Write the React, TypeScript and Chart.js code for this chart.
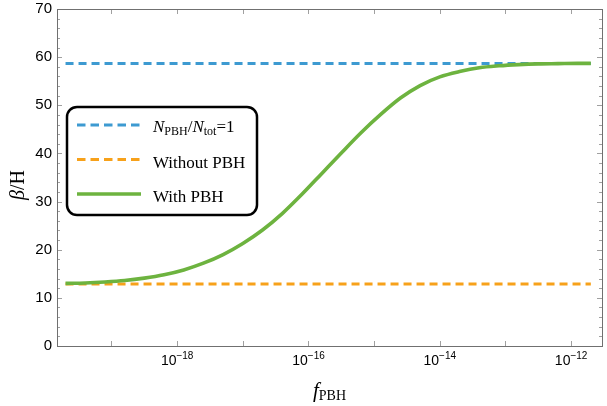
import React, { useEffect, useRef } from "react";
import { Chart, registerables } from "chart.js";

Chart.register(...registerables);

// ---- data ----
const logF: number[] = [
  -19.7, -19.4, -19.1, -18.8, -18.5, -18.2, -17.9, -17.6, -17.3, -17.0,
  -16.7, -16.4, -16.1, -15.8, -15.5, -15.2, -14.9, -14.6, -14.3, -14.0,
  -13.7, -13.4, -13.1, -12.8, -12.5, -12.2, -11.9, -11.7,
];
const betaWithPBH: number[] = [
  13.0, 13.1, 13.3, 13.6, 14.1, 14.8, 15.8, 17.2, 19.0, 21.3,
  24.1, 27.5, 31.5, 35.8, 40.1, 44.3, 48.1, 51.5, 54.1, 55.9,
  57.0, 57.8, 58.2, 58.45, 58.6, 58.65, 58.7, 58.7,
];
const fRangeExp: number[] = [-19.7, -11.7];
const betaNtotOne = 58.7;
const betaWithout = 12.9;

const legendLabels: string[] = ["N_PBH/N_tot=1", "Without PBH", "With PBH"];
const yTicks: number[] = [0, 10, 20, 30, 40, 50, 60, 70];
const xLabelExps: number[] = [-18, -16, -14, -12];
const xMinorExps: number[] = [-19, -17, -15, -13];

const BLUE = "#3D9AD1";
const ORANGE = "#F7A11A";
const GREEN = "#6DB33F";
const SANS = '"Liberation Sans", Arial, sans-serif';
const SERIF = '"Liberation Serif", "Times New Roman", serif';

function drawRich(
  ctx: CanvasRenderingContext2D,
  parts: { t: string; font: string; dy: number }[],
  x: number,
  y: number,
  align: "left" | "center"
) {
  let total = 0;
  for (const p of parts) {
    ctx.font = p.font;
    total += ctx.measureText(p.t).width;
  }
  let cx = align === "center" ? x - total / 2 : x;
  ctx.textAlign = "left";
  for (const p of parts) {
    ctx.font = p.font;
    ctx.fillText(p.t, cx, y + p.dy);
    cx += ctx.measureText(p.t).width;
  }
}

const framePlugin = {
  id: "framePlugin",
  afterDraw(chart: any) {
    const { ctx, chartArea: a, scales } = chart;
    const x = scales.x;
    const y = scales.y;
    ctx.save();
    // ticks
    ctx.strokeStyle = "#a0a0a0";
    ctx.lineWidth = 1;
    ctx.beginPath();
    for (let v = 0; v <= 70; v += 2) {
      const py = Math.round(y.getPixelForValue(v)) + 0.5;
      const len = v % 10 === 0 ? 5 : 3;
      ctx.moveTo(a.left, py);
      ctx.lineTo(a.left + len, py);
      ctx.moveTo(a.right, py);
      ctx.lineTo(a.right - len, py);
    }
    for (const e of [...xLabelExps, ...xMinorExps]) {
      const px = Math.round(x.getPixelForValue(Math.pow(10, e))) + 0.5;
      ctx.moveTo(px, a.bottom);
      ctx.lineTo(px, a.bottom - 5);
      ctx.moveTo(px, a.top);
      ctx.lineTo(px, a.top + 5);
    }
    ctx.stroke();
    // frame
    ctx.strokeStyle = "#707070";
    ctx.strokeRect(a.left + 0.5, a.top + 0.5, a.right - a.left, a.bottom - a.top);

    // y labels
    ctx.fillStyle = "#000";
    ctx.font = `15px ${SANS}`;
    ctx.textAlign = "right";
    ctx.textBaseline = "middle";
    for (const v of yTicks) {
      ctx.fillText(String(v), a.left - 5, y.getPixelForValue(v));
    }
    // x labels
    ctx.textBaseline = "alphabetic";
    for (const e of xLabelExps) {
      const px = x.getPixelForValue(Math.pow(10, e));
      drawRich(
        ctx,
        [
          { t: "10", font: `14px ${SANS}`, dy: 0 },
          { t: "\u2212" + String(-e), font: `10px ${SANS}`, dy: -6 },
        ],
        px,
        a.bottom + 19,
        "center"
      );
    }
    // x title
    drawRich(
      ctx,
      [
        { t: "f", font: `italic 21px ${SERIF}`, dy: 0 },
        { t: "PBH", font: `14px ${SERIF}`, dy: 3 },
      ],
      (a.left + a.right) / 2,
      397,
      "center"
    );
    // y title
    ctx.save();
    ctx.translate(24, 185);
    ctx.rotate(-Math.PI / 2);
    drawRich(
      ctx,
      [
        { t: "\u03B2", font: `italic 20px ${SERIF}`, dy: 0 },
        { t: "/H", font: `20px ${SERIF}`, dy: 0 },
      ],
      0,
      0,
      "center"
    );
    ctx.restore();

    // legend
    const bx = 67, by = 107, bw = 190, bh = 108, r = 10;
    ctx.beginPath();
    ctx.roundRect(bx, by, bw, bh, r);
    ctx.fillStyle = "#fff";
    ctx.fill();
    ctx.lineWidth = 2.5;
    ctx.strokeStyle = "#000";
    ctx.stroke();
    const rows = [125, 159.5, 194];
    const styles = [
      { c: BLUE, dash: [8.5, 5], w: 3 },
      { c: ORANGE, dash: [8.5, 5], w: 3 },
      { c: GREEN, dash: [], w: 3.5 },
    ];
    rows.forEach((ry, i) => {
      ctx.beginPath();
      ctx.setLineDash(styles[i].dash);
      ctx.strokeStyle = styles[i].c;
      ctx.lineWidth = styles[i].w;
      ctx.moveTo(77, ry);
      ctx.lineTo(141, ry);
      ctx.stroke();
    });
    ctx.setLineDash([]);
    ctx.fillStyle = "#000";
    ctx.textBaseline = "alphabetic";
    const sub = (s: string) => s.split("_");
    const [n1, rest] = legendLabels[0].split("/");
    const [nA, subA] = sub(n1);
    const [nB, subBeq] = sub(rest);
    const [subB, eqv] = subBeq.split("=");
    drawRich(
      ctx,
      [
        { t: nA, font: `italic 17px ${SERIF}`, dy: 0 },
        { t: subA, font: `12px ${SERIF}`, dy: 3 },
        { t: "/", font: `17px ${SERIF}`, dy: 0 },
        { t: nB, font: `italic 17px ${SERIF}`, dy: 0 },
        { t: subB, font: `12px ${SERIF}`, dy: 3 },
        { t: "=" + eqv, font: `17px ${SERIF}`, dy: 0 },
      ],
      153,
      rows[0] + 7,
      "left"
    );
    ctx.font = `17px ${SERIF}`;
    ctx.textAlign = "left";
    ctx.fillText(legendLabels[1], 153, rows[1] + 8);
    ctx.fillText(legendLabels[2], 153, rows[2] + 8);
    ctx.restore();
  },
};

export default function App() {
  const ref = useRef<HTMLCanvasElement>(null);
  useEffect(() => {
    document.body.style.margin = "0";
    const lo = Math.pow(10, fRangeExp[0]);
    const hi = Math.pow(10, fRangeExp[1]);
    const chart = new Chart(ref.current!, {
      type: "line",
      data: {
        datasets: [
          {
            label: legendLabels[2],
            data: logF.map((e, i) => ({ x: Math.pow(10, e), y: betaWithPBH[i] })),
            borderColor: GREEN,
            borderWidth: 3.6,
            pointRadius: 0,
            cubicInterpolationMode: "monotone",
            fill: false,
          },
          {
            label: legendLabels[0],
            data: [
              { x: lo, y: betaNtotOne },
              { x: hi, y: betaNtotOne },
            ],
            borderColor: BLUE,
            borderWidth: 3,
            borderDash: [8, 5],
            pointRadius: 0,
            fill: false,
          },
          {
            label: legendLabels[1],
            data: [
              { x: lo, y: betaWithout },
              { x: hi, y: betaWithout },
            ],
            borderColor: ORANGE,
            borderWidth: 3,
            borderDash: [8, 5],
            pointRadius: 0,
            fill: false,
          },
        ],
      },
      options: {
        animation: false,
        responsive: false,
        layout: { padding: { left: 57, top: 9, right: 5, bottom: 60 } },
        plugins: { legend: { display: false }, tooltip: { enabled: false } },
        scales: {
          x: {
            type: "logarithmic",
            display: false,
            min: Math.pow(10, -19.83),
            max: Math.pow(10, -11.53),
          },
          y: { type: "linear", display: false, min: 0, max: 70 },
        },
      },
      plugins: [framePlugin],
    });
    return () => chart.destroy();
  }, []);
  return (
    <div style={{ position: "absolute", left: 0, top: 0 }}>
      <canvas ref={ref} width={607} height={406} style={{ display: "block" }} />
    </div>
  );
}
